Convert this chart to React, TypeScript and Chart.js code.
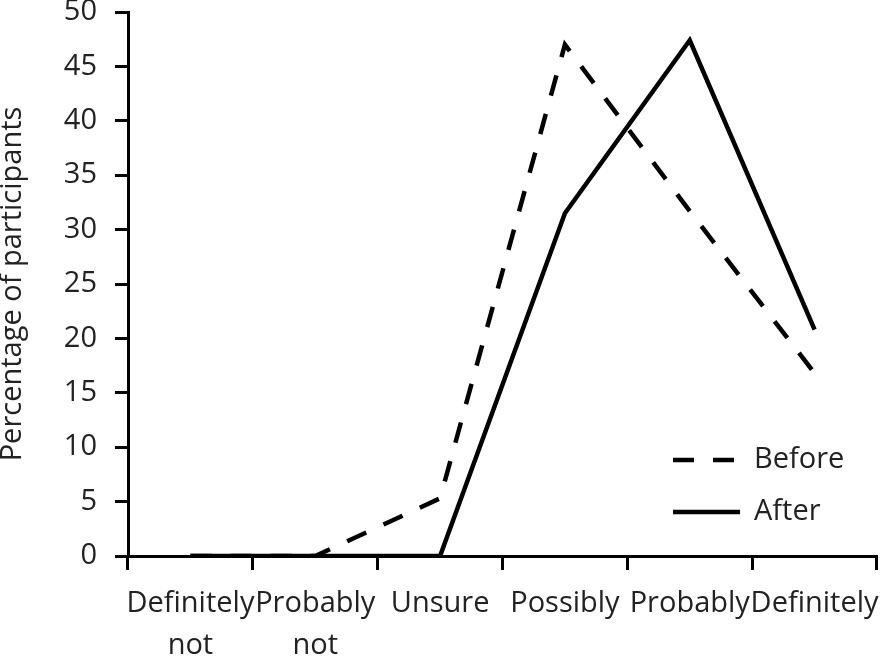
import React, { useEffect, useRef } from "react";
import { Chart, registerables } from "chart.js";

Chart.register(...registerables);

const categories: (string | string[])[] = [
  ["Definitely", "not"],
  ["Probably", "not"],
  "Unsure",
  "Possibly",
  "Probably",
  "Definitely",
];
const beforeValues = [0, 0, 5.3, 47, 31.7, 16.8];
const afterValues = [0, 0, 0, 31.5, 47.4, 20.8];
const yTicks = [0, 5, 10, 15, 20, 25, 30, 35, 40, 45, 50];
const yTitle = "Percentage of participants";

const FONT = "'Open Sans', 'Liberation Sans', Arial, sans-serif";
const TEXT = "#222";

const insideLegend = {
  id: "insideLegend",
  afterDraw(chart: any) {
    const { ctx, chartArea } = chart;
    const x0 = chartArea.right - 204;
    const x1 = chartArea.right - 137;
    const tx = chartArea.right - 123;
    const rows = [chartArea.bottom - 96, chartArea.bottom - 44];
    ctx.save();
    chart.data.datasets.forEach((ds: any, i: number) => {
      const y = rows[i];
      ctx.beginPath();
      ctx.setLineDash(ds.borderDash || []);
      ctx.lineWidth = 4.5;
      ctx.strokeStyle = ds.borderColor;
      ctx.moveTo(x0, y);
      ctx.lineTo(x1, y);
      ctx.stroke();
      ctx.setLineDash([]);
      ctx.fillStyle = TEXT;
      ctx.font = `29px ${FONT}`;
      ctx.textBaseline = "middle";
      ctx.textAlign = "left";
      ctx.fillText(ds.label, tx, y);
    });
    ctx.restore();
  },
};

export default function App() {
  const ref = useRef<HTMLCanvasElement>(null);
  useEffect(() => {
    if (!ref.current) return;
    const chart = new Chart(ref.current, {
      type: "line",
      data: {
        labels: categories,
        datasets: [
          {
            label: "Before",
            data: beforeValues,
            borderColor: "#000",
            borderWidth: 4.5,
            borderDash: [21, 19],
            pointRadius: 0,
            tension: 0,
            fill: false,
          },
          {
            label: "After",
            data: afterValues,
            borderColor: "#000",
            borderWidth: 4.5,
            pointRadius: 0,
            tension: 0,
            fill: false,
          },
        ],
      },
      options: {
        animation: false,
        responsive: false,
        maintainAspectRatio: false,
        layout: { padding: { top: 12, right: 18, left: 0, bottom: 0 } },
        plugins: {
          legend: { display: false },
          tooltip: { enabled: false },
        },
        scales: {
          x: {
            type: "category",
            offset: true,
            grid: {
              display: true,
              drawOnChartArea: false,
              drawTicks: true,
              tickLength: 14,
              tickWidth: 3,
              tickColor: "#000",
              offset: true,
            },
            border: { display: true, color: "#000", width: 3 },
            ticks: {
              color: TEXT,
              font: { family: FONT, size: 29, lineHeight: 1.45 },
              padding: 13,
              maxRotation: 0,
              autoSkip: false,
            },
            afterFit(scale: any) {
              scale.height = 101;
              scale.paddingLeft = 0;
              scale.paddingRight = 0;
            },
          },
          y: {
            min: 0,
            max: 50,
            afterBuildTicks(scale: any) {
              scale.ticks = yTicks.map((v) => ({ value: v }));
            },
            grid: {
              display: true,
              drawOnChartArea: false,
              drawTicks: true,
              tickLength: 13,
              tickWidth: 3,
              tickColor: "#000",
            },
            border: { display: true, color: "#000", width: 3 },
            ticks: {
              color: TEXT,
              font: { family: FONT, size: 29, lineHeight: 1 },
              padding: 18,
            },
            title: {
              display: true,
              text: yTitle,
              color: TEXT,
              font: { family: FONT, size: 29, lineHeight: 0.9 },
              padding: 0,
            },
            afterFit(scale: any) {
              scale.width = 128;
              scale.paddingTop = 0;
              scale.paddingBottom = 0;
            },
          },
        },
      },
      plugins: [insideLegend],
    });
    return () => chart.destroy();
  }, []);
  return (
    <div style={{ position: "absolute", left: 0, top: 0, width: 895, height: 657, background: "#fff" }}>
      <canvas ref={ref} width={895} height={657} style={{ display: "block" }} />
    </div>
  );
}
